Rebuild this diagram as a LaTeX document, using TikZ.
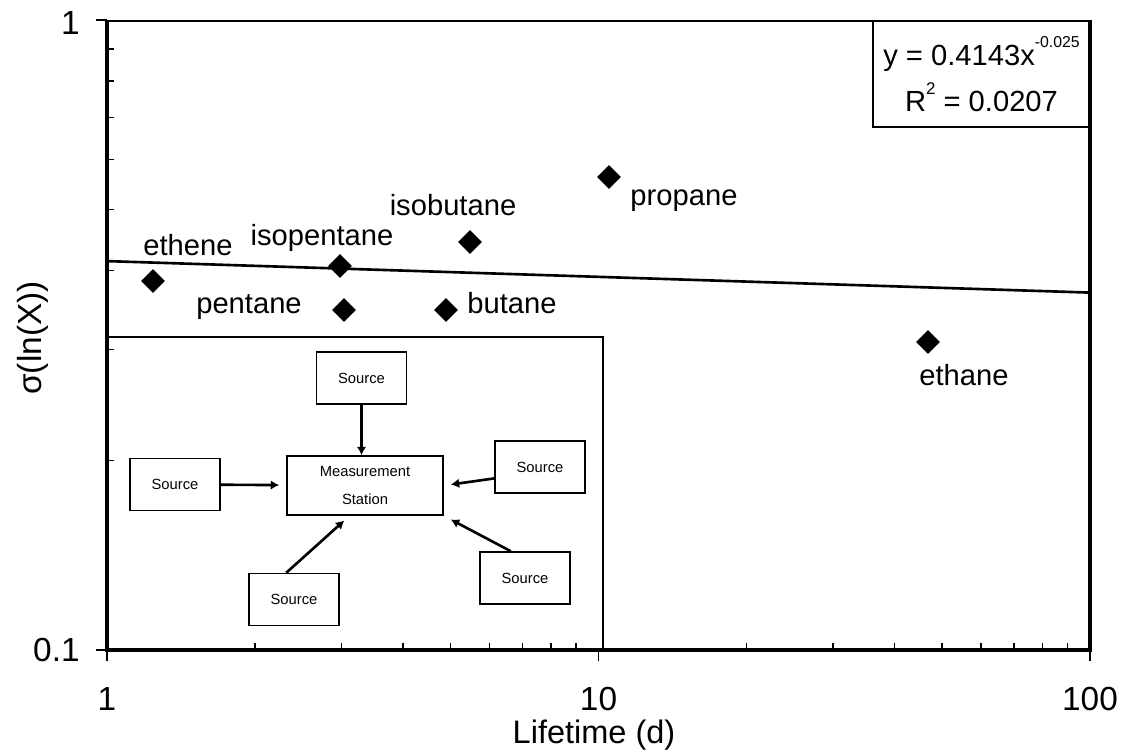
\documentclass[tikz,border=0pt]{standalone}
\usepackage{fontspec}
\setmainfont{Liberation Sans}
\usetikzlibrary{arrows.meta,shapes.geometric}

\begin{document}
\begin{tikzpicture}[x=0.02cm,y=-0.02cm,
  srcbox/.style={draw,line width=0.9pt,fill=white,minimum width=51.2pt,minimum height=29.6pt,inner sep=0pt,font=\fontsize{8.4}{10}\selectfont},
  feed/.style={line width=1.5pt,-{Latex[length=4.8pt,width=5.4pt]}},
  datapt/.style={diamond,fill=black,inner sep=0pt,minimum width=13.7pt,minimum height=13.7pt},
  lbl/.style={anchor=base,inner sep=0pt,font=\fontsize{16.6}{18}\selectfont},
  ticklbl/.style={inner sep=0pt,font=\fontsize{19}{21}\selectfont}]
  \useasboundingbox (0,0) rectangle (1126,751);
  % inset sketch
  \draw[line width=1.1pt] (107,337) rectangle (603,650);
  \node[srcbox,minimum width=88.8pt,minimum height=33.6pt,align=center,font=\fontsize{8.4}{15.5}\selectfont] (meas) at (365,485.5) {Measurement\\Station};
  \node[srcbox] (srct) at (361.5,378) {Source};
  \node[srcbox] (srcl) at (175,484.5) {Source};
  \node[srcbox] (srcr) at (540,467) {Source};
  \node[srcbox] (srcbl) at (294,599.5) {Source};
  \node[srcbox] (srcbr) at (525,578) {Source};
  \draw[feed] (srct.south) -- (srct.south |- meas.north);
  \draw[feed,shorten >=4pt] (srcl) -- (meas);
  \draw[feed,shorten >=4pt] (srcr.194) -- (meas.east);
  \draw[feed,shorten >=4pt] (srcbl.106) -- (meas.243);
  \draw[feed,shorten >=4.5pt] (srcbr.118) -- (meas.south east);
  % fit and frame
  \draw[line width=1.5pt] (107,261.1) -- (1090,292.6);
  \draw[line width=1.1pt] (107,21) -- (1090,21);
  \draw[line width=1.8pt] (107,20) -- (107,650) -- (1090,650) -- (1090,20);
  \foreach \k in {2,...,9} {
    \draw[line width=0.8pt] ({107+491.5*log10(\k)},650) -- ++(0,-7);
    \draw[line width=0.8pt] ({598.5+491.5*log10(\k)},650) -- ++(0,-7);
    \draw[line width=0.8pt] (107,{650-630*log10(\k)}) -- ++(7,0);
  }
  \foreach \tx in {107,598.5,1090} \draw[line width=0.8pt] (\tx,650) -- (\tx,661);
  \foreach \ty in {20,650} \draw[line width=0.8pt] (96,\ty) -- (107,\ty);
  \node[ticklbl,anchor=east] (ytop) at (80,23) {1};
  \node[ticklbl,anchor=east] (ybot) at (80,650) {0.1};
  \node[ticklbl,anchor=base] (xone) at (107,710) {1};
  \node[ticklbl,anchor=base] (xten) at (598.5,710) {10};
  \node[ticklbl,anchor=base] (xhun) at (1090,710) {100};
  \node[ticklbl,anchor=base,font=\fontsize{18.5}{20}\selectfont] (xtitle) at (594,743) {Lifetime (d)};
  \node[ticklbl,rotate=90] (ytitle) at (33,338) {σ(ln(X))};
  % regression box
  \node[draw,line width=1pt,minimum width=123.5pt,minimum height=60.3pt,align=center,font=\fontsize{16.6}{26}\selectfont] (fitbox) at (981.5,74)
    {y = 0.4143x\raisebox{10.5pt}{\fontsize{9}{10}\selectfont -0.025}\\R\raisebox{9.5pt}{\fontsize{9.6}{10}\selectfont 2} = 0.0207};
  % data
  \foreach \nm/\px/\py in {ethene/153/281,isopentane/340/266,pentane/344/310,isobutane/470/242,butane/446/310,propane/609/177,ethane/928/342}
    \node[datapt] (\nm) at (\px,\py) {};
  \foreach \nm/\lx/\ly in {ethene/188/255,isopentane/322/245,isobutane/453/215,propane/684/205,pentane/249/313,butane/512/313,ethane/964/385}
    \node[lbl] (\nm-lbl) at (\lx,\ly) {\nm};
\end{tikzpicture}
\end{document}
